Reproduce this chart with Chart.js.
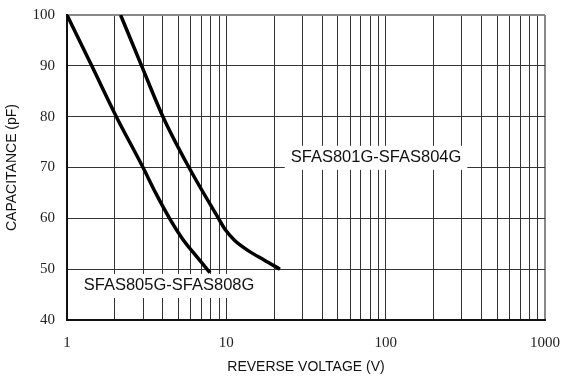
<!DOCTYPE html>
<html>
<head>
<meta charset="utf-8">
<script src="https://cdn.jsdelivr.net/npm/chart.js@4.4.0/dist/chart.umd.min.js"></script>
<style>
  html, body { margin: 0; padding: 0; background: #fff; }
  #wrap { width: 563px; height: 380px; }
</style>
</head>
<body>
<div id="wrap"><canvas id="capChart"></canvas></div>
<script>
// values
const lowVoltage = [1, 1.43, 2.04, 3.0, 3.6, 4.4, 5.3, 6.5, 7.9];
const lowCap = [100, 90, 80, 70, 65, 60, 56, 52.5, 49.3];
const highVoltage = [2.17, 2.94, 4.0, 5.83, 8.93, 9.89, 11.25, 13.49, 17.24, 21.7];
const highCap = [100, 90, 80, 70, 60, 57.7, 55.7, 53.8, 51.8, 50];

const xTickValues = [1,2,3,4,5,6,7,8,9,10,20,30,40,50,60,70,80,90,100,200,300,400,500,600,700,800,900,1000];
const xTickLabels = [1, 10, 100, 1000];
const yTicks = [40, 50, 60, 70, 80, 90, 100];

const seriesNames = ['SFAS805G-SFAS808G', 'SFAS801G-SFAS804G'];
// where each series name sits (data coords)
const nameAt = [{x: 4.37, y: 46.7}, {x: 87, y: 71.9}];

const toPoints = (xs, ys) => xs.map((v, i) => ({x: v, y: ys[i]}));

const seriesLabels = {
    id: 'seriesLabels',
    beforeDatasetsDraw(chart) {
        const {ctx, scales: {x, y}} = chart;
        ctx.save();
        ctx.font = '16.5px "Liberation Sans", Arial, sans-serif';
        ctx.textAlign = 'center';
        ctx.textBaseline = 'middle';
        seriesNames.forEach((name, i) => {
            const px = x.getPixelForValue(nameAt[i].x);
            const py = y.getPixelForValue(nameAt[i].y);
            const w = ctx.measureText(name).width + 12;
            ctx.fillStyle = '#fff';
            ctx.fillRect(px - w / 2, py - 12, w, 24);
            ctx.fillStyle = '#111';
            ctx.fillText(name, px, py);
        });
        ctx.restore();
    }
};

new Chart(document.getElementById('capChart'), {
    type: 'line',
    data: {
        datasets: [
            { label: seriesNames[0], data: toPoints(lowVoltage, lowCap) },
            { label: seriesNames[1], data: toPoints(highVoltage, highCap) }
        ]
    },
    options: {
        responsive: true,
        maintainAspectRatio: false,
        animation: false,
        layout: { padding: { top: 15, right: 18, left: 0, bottom: 0 } },
        elements: {
            line: { borderColor: '#000', borderWidth: 3.5, cubicInterpolationMode: 'monotone' },
            point: { radius: 0 }
        },
        plugins: { legend: { display: false }, tooltip: { enabled: false } },
        scales: {
            x: {
                type: 'logarithmic',
                min: 1,
                max: 1000,
                afterBuildTicks: (scale) => { scale.ticks = xTickValues.map(v => ({value: v})); },
                afterFit: (scale) => {
                    scale.height = 60;
                    scale.paddingLeft = 0;
                    scale.paddingRight = 0;
                },
                ticks: {
                    autoSkip: false,
                    maxRotation: 0,
                    padding: 14,
                    color: '#222',
                    font: { family: '"Liberation Serif", "Times New Roman", serif', size: 15 },
                    callback: (value) => xTickLabels.includes(value) ? String(value) : ''
                },
                grid: {
                    drawTicks: false,
                    color: (c) => c.tick && c.tick.value === 1000 ? '#888' : '#333',
                    lineWidth: (c) => c.tick && c.tick.value === 1000 ? 2 : 1
                },
                border: { color: '#111', width: 2 },
                title: {
                    display: true,
                    text: 'REVERSE VOLTAGE (V)',
                    color: '#111',
                    font: { family: '"Liberation Sans", Arial, sans-serif', size: 14 },
                    padding: { top: 2 }
                }
            },
            y: {
                min: 40,
                max: 100,
                afterBuildTicks: (scale) => { scale.ticks = yTicks.map(v => ({value: v})); },
                afterFit: (scale) => {
                    scale.width = 67;
                    scale.paddingTop = 0;
                    scale.paddingBottom = 0;
                },
                ticks: {
                    padding: 12,
                    color: '#222',
                    font: { family: '"Liberation Serif", "Times New Roman", serif', size: 15 }
                },
                grid: {
                    drawTicks: false,
                    color: (c) => c.tick && c.tick.value === 100 ? '#888' : '#333',
                    lineWidth: (c) => c.tick && c.tick.value === 100 ? 2 : 1
                },
                border: { color: '#111', width: 2 },
                title: {
                    display: true,
                    text: 'CAPACITANCE (pF)',
                    color: '#111',
                    font: { family: '"Liberation Sans", Arial, sans-serif', size: 14 },
                    padding: { bottom: 2 }
                }
            }
        }
    },
    plugins: [seriesLabels]
});
</script>
</body>
</html>
